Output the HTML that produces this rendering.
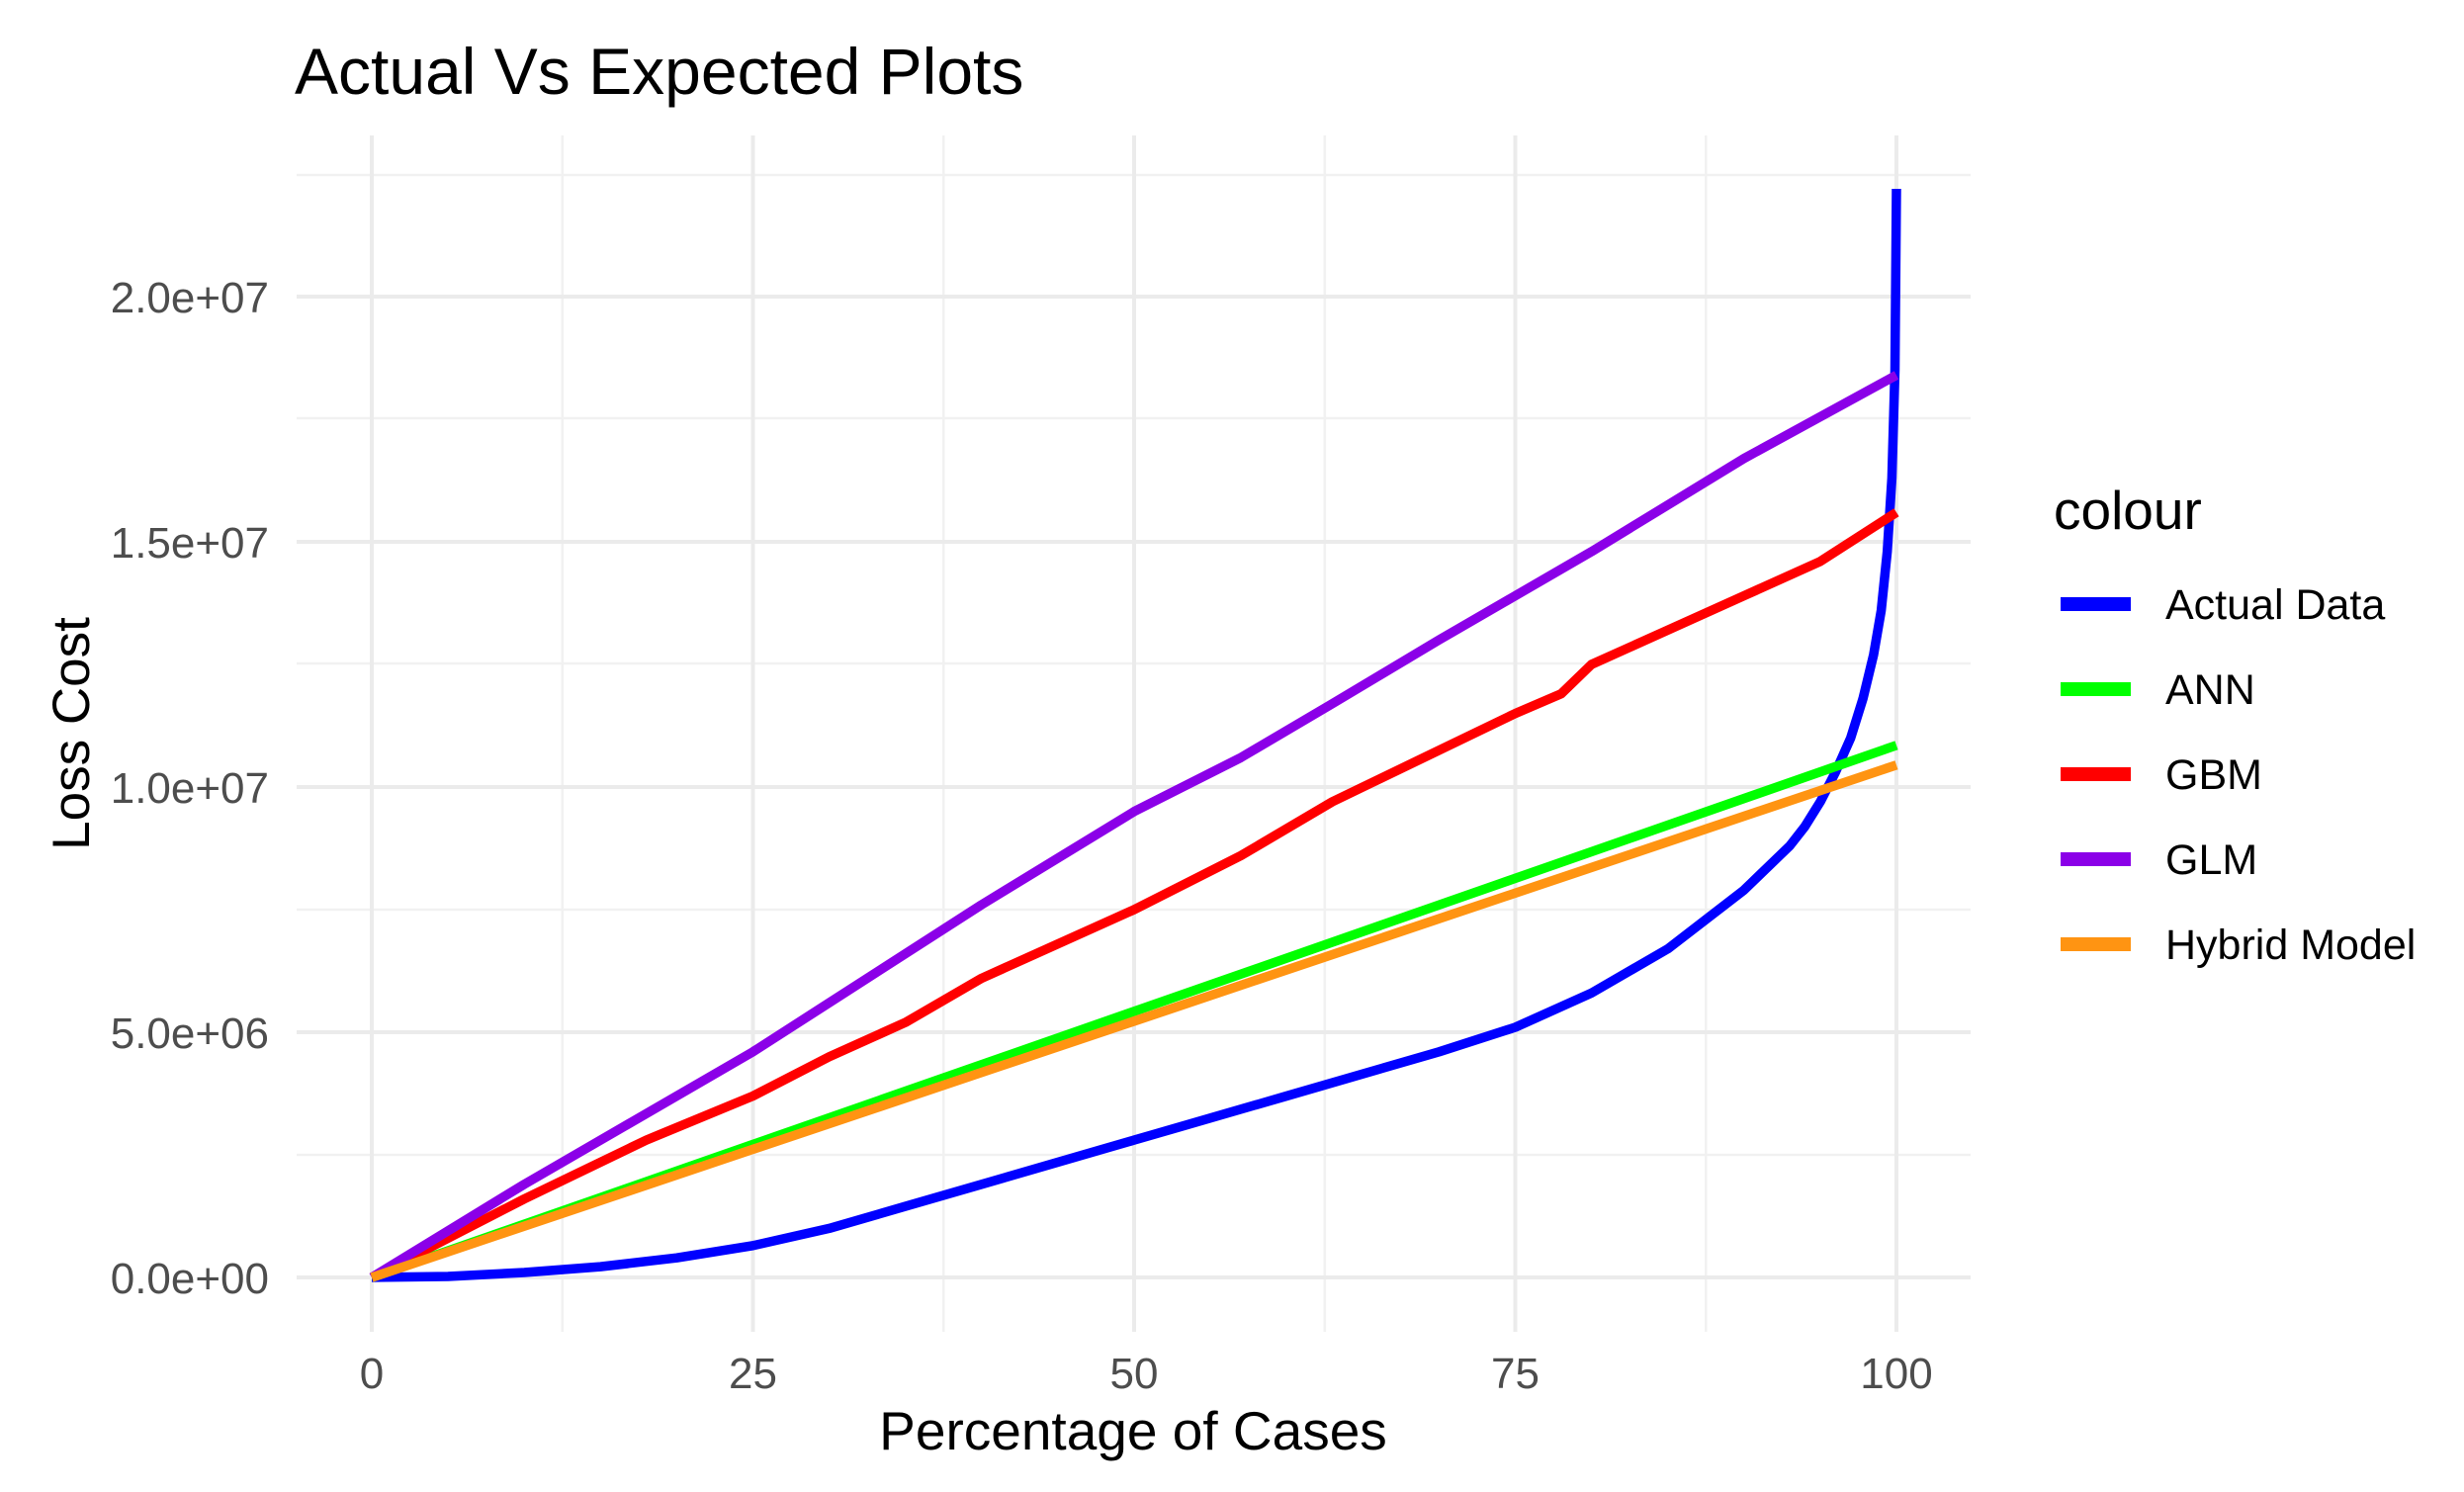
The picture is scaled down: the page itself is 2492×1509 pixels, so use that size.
<!DOCTYPE html>
<html><head><meta charset="utf-8"><style>
html,body{margin:0;padding:0;background:#fff;}
svg{display:block;font-family:"Liberation Sans",Arial,sans-serif;}
</style></head><body>
<svg width="2492" height="1509" viewBox="0 0 2492 1509" xmlns="http://www.w3.org/2000/svg">
<rect width="2492" height="1509" fill="#fff"/>
<text x="298" y="95" font-size="66" fill="#000">Actual Vs Expected Plots</text>
<g stroke="#f1f1f1" stroke-width="2.5">
<line x1="300" y1="177" x2="1993" y2="177"/>
<line x1="300" y1="423" x2="1993" y2="423"/>
<line x1="300" y1="671" x2="1993" y2="671"/>
<line x1="300" y1="920" x2="1993" y2="920"/>
<line x1="300" y1="1168" x2="1993" y2="1168"/>
<line x1="568.8" y1="137" x2="568.8" y2="1347"/>
<line x1="954.3" y1="137" x2="954.3" y2="1347"/>
<line x1="1339.8" y1="137" x2="1339.8" y2="1347"/>
<line x1="1725.3" y1="137" x2="1725.3" y2="1347"/>
</g>
<g stroke="#ebebeb" stroke-width="4">
<line x1="300" y1="300" x2="1993" y2="300"/>
<line x1="300" y1="548" x2="1993" y2="548"/>
<line x1="300" y1="796" x2="1993" y2="796"/>
<line x1="300" y1="1044" x2="1993" y2="1044"/>
<line x1="300" y1="1292" x2="1993" y2="1292"/>
<line x1="376" y1="137" x2="376" y2="1347"/>
<line x1="761.5" y1="137" x2="761.5" y2="1347"/>
<line x1="1147" y1="137" x2="1147" y2="1347"/>
<line x1="1532.5" y1="137" x2="1532.5" y2="1347"/>
<line x1="1918" y1="137" x2="1918" y2="1347"/>
</g>
<g font-size="44" fill="#4d4d4d" text-anchor="end">
<text x="272" y="316">2.0e+07</text>
<text x="272" y="564">1.5e+07</text>
<text x="272" y="812">1.0e+07</text>
<text x="272" y="1060">5.0e+06</text>
<text x="272" y="1308">0.0e+00</text>
</g>
<g font-size="44" fill="#4d4d4d" text-anchor="middle">
<text x="376" y="1404">0</text>
<text x="761.5" y="1404">25</text>
<text x="1147" y="1404">50</text>
<text x="1532.5" y="1404">75</text>
<text x="1918" y="1404">100</text>
</g>
<text x="1146" y="1466" font-size="55" text-anchor="middle" fill="#000">Percentage of Cases</text>
<text transform="translate(90,742) rotate(-90)" font-size="53" text-anchor="middle" fill="#000">Loss Cost</text>
<g fill="none" stroke-width="9.5" stroke-linejoin="round" stroke-linecap="butt">
<polyline stroke="#0000ff" points="376,1292 453.1,1291 530.2,1287 607.3,1281.1 684.4,1272.2 761.5,1259.8 838.6,1242.4 915.7,1220.1 992.8,1197.8 1147,1153.1 1301.2,1108.5 1455.4,1063.8 1532.5,1039 1609.6,1004.3 1686.7,959.7 1763.8,900.2 1810.1,855.5 1825.5,835.8 1841,810.9 1856.3,781.1 1871.7,746.4 1884.1,706.7 1894.9,662.1 1902.6,617.4 1908.7,557.9 1913.4,483.5 1916.5,374.4 1918,191"/>
<polyline stroke="#00ff00" points="376,1292 1918,753.8"/>
<polyline stroke="#ff0000" points="376,1292 530.2,1212.6 653.6,1153.1 761.5,1108.5 838.6,1068.8 915.7,1034.1 992.8,989.4 1147,920 1255,865.4 1347.5,810.9 1532.5,721.6 1578.8,701.8 1609.6,672 1763.8,602.6 1841,567.8 1918,518.2"/>
<polyline stroke="#8b00e8" points="376,1292 530.2,1197.8 761.5,1063.8 992.8,915 1147,820.8 1255,766.2 1347.5,711.7 1455.4,647.2 1609.6,557.9 1763.8,463.7 1918,379.4"/>
<polyline stroke="#ff9412" points="376,1292 1918,773.7"/>
</g>
<text x="2077" y="535" font-size="55" fill="#000">colour</text>
<g stroke-width="14">
<line x1="2084" y1="611" x2="2155" y2="611" stroke="#0000ff"/>
<line x1="2084" y1="697" x2="2155" y2="697" stroke="#00ff00"/>
<line x1="2084" y1="783" x2="2155" y2="783" stroke="#ff0000"/>
<line x1="2084" y1="869" x2="2155" y2="869" stroke="#8b00e8"/>
<line x1="2084" y1="955" x2="2155" y2="955" stroke="#ff9412"/>
</g>
<g font-size="43" fill="#000">
<text x="2190" y="626">Actual Data</text>
<text x="2190" y="712">ANN</text>
<text x="2190" y="798">GBM</text>
<text x="2190" y="884">GLM</text>
<text x="2190" y="970">Hybrid Model</text>
</g>
</svg>
</body></html>
